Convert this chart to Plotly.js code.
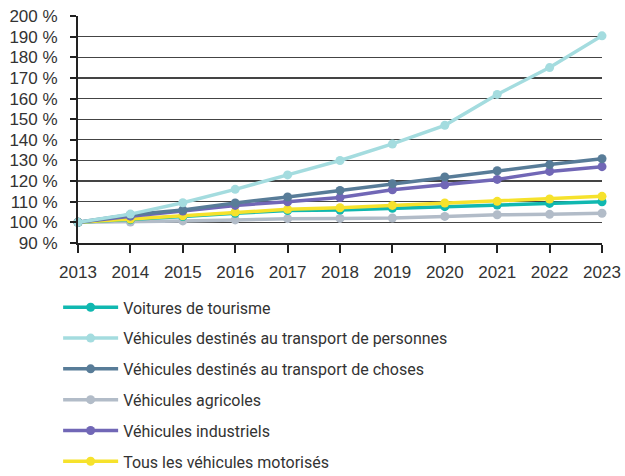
<!DOCTYPE html>
<html><head><meta charset="utf-8">
<script src="https://cdn.plot.ly/plotly-3.0.1.min.js"></script>
<style>html,body{margin:0;padding:0;background:#fff}#chart{width:625px;height:476px}</style>
</head><body><div id="chart"></div>
<script>
const years = [2013,2014,2015,2016,2017,2018,2019,2020,2021,2022,2023];
const seriesNames = [
  "Voitures de tourisme",
  "Véhicules destinés au transport de personnes",
  "Véhicules destinés au transport de choses",
  "Véhicules agricoles",
  "Véhicules industriels",
  "Tous les véhicules motorisés"
];
const voitures   = [100,101.3,102.8,104.4,105.7,106.0,106.8,107.6,108.4,109.2,110.0];
const personnes  = [100,104.0,109.5,116.0,123.0,130.0,138.0,147.0,162.0,175.0,190.4];
const choses     = [100,103.7,106.0,109.4,112.3,115.5,118.7,122.0,125.0,128.0,130.8];
const agricoles  = [100,100.2,100.7,101.2,101.8,101.9,102.1,102.9,103.7,103.9,104.4];
const industriels= [100,103.0,105.5,108.2,110.0,112.0,115.8,118.2,120.8,124.7,127.0];
const tous       = [100,101.6,103.2,105.0,106.3,107.1,108.2,109.4,110.2,111.3,112.6];
const yTicks = [90,100,110,120,130,140,150,160,170,180,190,200];
const yTickText = yTicks.map(v => v + " %");

const colors = ["#10b8b0","#a4dcdf","#587c98","#b2bcc8","#7167b6","#f6e22c"];
const allSeries = [voitures, personnes, choses, agricoles, industriels, tous];
const drawOrder = [3,0,5,4,2,1];
const traces = seriesNames.map((name,i)=>({
  type:'scatter', mode:'lines+markers', x:years, y:allSeries[i], name:name,
  legendgroup:'g'+i, legendrank:i+1,
  line:{color:colors[i], width:3.5}, marker:{color:colors[i], size:9},
  cliponaxis:false, hoverinfo:'skip'
}));
const ordered = drawOrder.map(i=>traces[i]);

const layout = {
  width:625, height:476,
  margin:{l:78, r:23, t:16, b:233, autoexpand:false},
  paper_bgcolor:'#fff', plot_bgcolor:'#fff',
  font:{family:'Liberation Sans, Arial, sans-serif', color:'#333', size:17},
  showlegend:true,
  legend:{orientation:'v', xref:'container', yref:'container', x:0.093, xanchor:'left', y:0.39, yanchor:'top',
    traceorder:'grouped', tracegroupgap:7, font:{size:16, family:'Roboto, sans-serif', color:'#333'},
    itemwidth:55, bgcolor:'rgba(0,0,0,0)'},
  xaxis:{range:[2013,2023], tickvals:years, ticktext:years.map(String), showgrid:false, zeroline:false,
    showline:true, linecolor:'#222', linewidth:2, ticks:'outside', ticklen:8, tickwidth:2, tickcolor:'#222',
    tickfont:{size:17}, ticklabelstandoff:5, fixedrange:true},
  yaxis:{range:[90,200], tickvals:yTicks, ticktext:yTickText, showgrid:true, gridcolor:'#444', gridwidth:1.2,
    zeroline:false, showline:true, linecolor:'#222', linewidth:2, ticks:'outside', ticklen:6, tickwidth:2,
    tickcolor:'#222', tickfont:{size:17}, ticklabelstandoff:9, fixedrange:true}
};
Plotly.newPlot('chart', ordered, layout, {displayModeBar:false, staticPlot:true});
</script></body></html>
